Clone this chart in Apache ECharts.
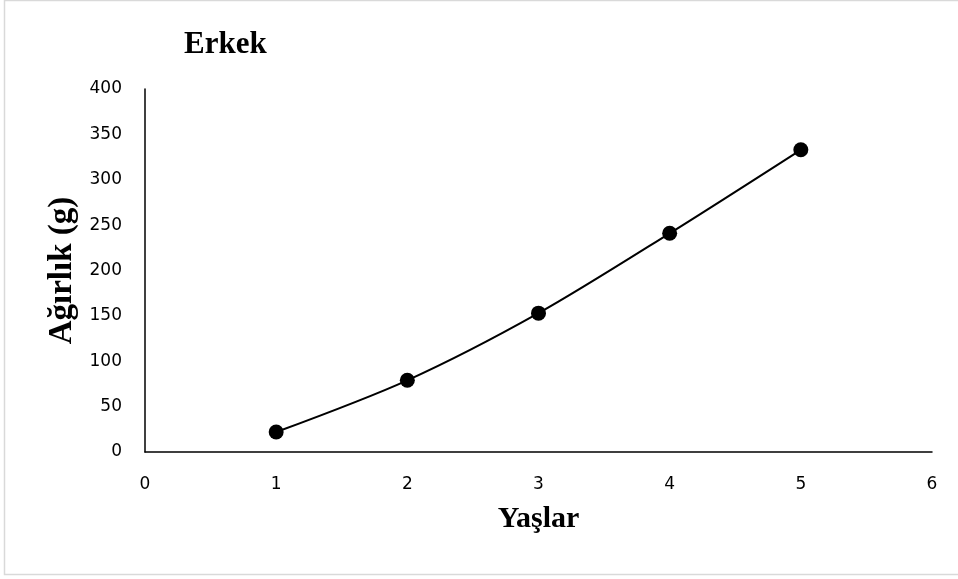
<!DOCTYPE html>
<html>
<head>
<meta charset="utf-8">
<script src="https://cdn.jsdelivr.net/npm/echarts@6/dist/echarts.min.js"></script>
<style>html,body{margin:0;padding:0;background:#fff}#c{width:958px;height:579px}</style>
</head>
<body>
<div id="c"></div>
<script>
const titleText = 'Erkek';
const xName = 'Yaşlar';
const yName = 'Ağırlık (g)';
const ages = [1, 2, 3, 4, 5];
const weights = [22, 79, 153, 241, 333];

const chart = echarts.init(document.getElementById('c'), null, {renderer: 'canvas'});
chart.setOption({
  animation: false,
  backgroundColor: '#fff',
  title: {
    text: titleText, left: 179, top: 24,
    textStyle: {fontFamily: 'Liberation Serif', fontWeight: 'bold', fontSize: 31, color: '#000'}
  },
  graphic: [{
    type: 'rect', shape: {x: 4.5, y: 0.5, width: 960, height: 574},
    style: {fill: 'none', stroke: '#d9d9d9', lineWidth: 1.5}, silent: true, z: -1
  }],
  grid: {left: 145, right: 26, top: 89, bottom: 127},
  xAxis: {
    type: 'value', min: 0, max: 6, interval: 1,
    name: xName, nameLocation: 'middle', nameGap: 52,
    nameTextStyle: {fontFamily: 'Liberation Serif', fontWeight: 'bold', fontSize: 30, color: '#000'},
    axisLine: {show: true, onZero: false, lineStyle: {color: '#000', width: 1.5}},
    axisTick: {show: false},
    splitLine: {show: false},
    axisLabel: {margin: 24, fontFamily: 'DejaVu Sans', fontSize: 17, color: '#000'}
  },
  yAxis: {
    type: 'value', min: 0, max: 400, interval: 50,
    name: yName, nameLocation: 'middle', nameGap: 64,
    nameTextStyle: {fontFamily: 'Liberation Serif', fontWeight: 'bold', fontSize: 33, color: '#000'},
    axisLine: {show: true, lineStyle: {color: '#000', width: 1.5}},
    axisTick: {show: false},
    splitLine: {show: false},
    axisLabel: {margin: 23, fontFamily: 'DejaVu Sans', fontSize: 17, color: '#000'}
  },
  series: [{
    type: 'line',
    data: ages.map((a, i) => [a, weights[i]]),
    smooth: 0.3,
    symbol: 'circle', symbolSize: 15,
    lineStyle: {color: '#000', width: 2},
    itemStyle: {color: '#000'}
  }]
});
</script>
</body>
</html>
